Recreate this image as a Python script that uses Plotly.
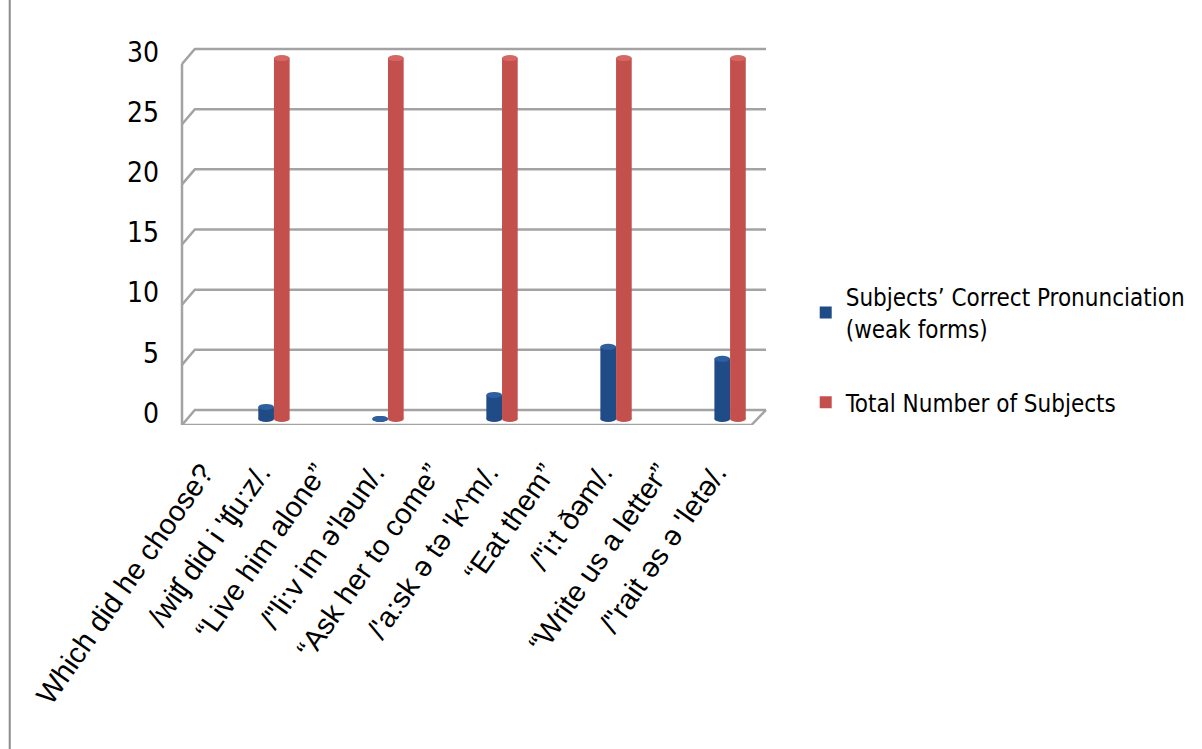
import plotly.graph_objects as go

# Sentence / transcription labels along the category axis
categories = [
    "Which did he choose?",
    "/wiʧ did i 'ʧu:z/.",
    "“Live him alone”",
    "/\"li:v im ə'ləun/.",
    "“Ask her to come”",
    "/'a:sk ə tə 'k^m/.",
    "“Eat them”",
    "/\"i:t ðəm/.",
    "“Write us a letter”",
    "/\"rait əs ə 'letə/.",
]

# Values only exist for the transcription rows
correct_pron = [None, 1, None, 0, None, 2, None, 6, None, 5]
total_subjects = [None, 30, None, 30, None, 30, None, 30, None, 30]

series_names = ["Subjects’ Correct Pronunciation<br>(weak forms)", "Total Number of Subjects"]
series_colors = ["#1f4b87", "#c4504d"]
cap_colors = ["#2f5f9e", "#d66662"]

y_ticks = [0, 5, 10, 15, 20, 25, 30]

NARROW = "Liberation Sans Narrow, DejaVu Sans Condensed, Arial Narrow, sans-serif"
REGULAR = "Liberation Sans, Arial, sans-serif"

x_idx = list(range(len(categories)))
BARGAP = 0.45
bar_w = (1 - BARGAP) / 2

fig = go.Figure()
for name, vals, col in zip(series_names, [correct_pron, total_subjects], series_colors):
    fig.add_trace(go.Bar(
        x=x_idx, y=vals, name=name, marker=dict(color=col, line=dict(width=0)),
        legendgroup=name,
    ))

shapes = []
# pseudo-3D walls: diagonal from the front edge back to each gridline
for v in y_ticks:
    shapes.append(dict(
        type="path", xref="paper", yref="y", layer="below",
        path=f"M 0,{v - 0.5} L 0.022,{v + 0.75} L 1,{v + 0.75}",
        line=dict(color="#a3a3a3", width=2.5),
    ))
# floor front edge and left wall edge
shapes.append(dict(type="path", xref="paper", yref="y", layer="below",
                   path="M 0,-0.5 L 0.975,-0.5 L 1,0.75",
                   line=dict(color="#a3a3a3", width=2.5)))
shapes.append(dict(type="path", xref="paper", yref="y", layer="below",
                   path=f"M 0,-0.5 L 0,{y_ticks[-1] - 0.5}",
                   line=dict(color="#a3a3a3", width=2.5)))

# cylinder ends for each column
for s, vals in enumerate([correct_pron, total_subjects]):
    off = (s - 0.5) * bar_w
    for i, v in zip(x_idx, vals):
        if v is None:
            continue
        x0, x1 = i + off - bar_w / 2, i + off + bar_w / 2
        shapes.append(dict(type="circle", xref="x", yref="y", layer="above",
                           x0=x0, x1=x1, y0=-0.25, y1=0.25,
                           fillcolor=series_colors[s], line=dict(width=0)))
        shapes.append(dict(type="circle", xref="x", yref="y", layer="above",
                           x0=x0, x1=x1, y0=v - 0.25, y1=v + 0.25,
                           fillcolor=cap_colors[s], line=dict(width=0)))

# outer frame line on the left
shapes.append(dict(type="line", xref="paper", yref="paper",
                   x0=-0.295, x1=-0.295, y0=-0.842, y1=1.104,
                   line=dict(color="#8c8c8c", width=2)))

fig.update_layout(
    width=1202, height=749,
    margin=dict(l=182, r=430, t=40, b=324),
    paper_bgcolor="white", plot_bgcolor="rgba(0,0,0,0)",
    barmode="group", bargap=BARGAP, bargroupgap=0,
    shapes=shapes,
    showlegend=True,
    legend=dict(
        x=1.068, y=0.39, xanchor="left", yanchor="top",
        font=dict(family=NARROW, size=24, color="#000000"),
        tracegroupgap=40, bgcolor="rgba(0,0,0,0)",
        itemwidth=30,
    ),
    xaxis=dict(
        range=[-0.613, 9.63], tickmode="array", tickvals=x_idx, ticktext=categories,
        tickangle=-55, showgrid=False, zeroline=False, showline=False, ticks="",
        tickfont=dict(family=REGULAR, size=29, color="#000000"),
        ticklabelstandoff=24, ticklabelshift=-14,
    ),
    yaxis=dict(
        range=[-0.5, 31.5], tickmode="array", tickvals=y_ticks,
        showgrid=False, zeroline=False, showline=False, ticks="",
        tickfont=dict(family=NARROW, size=28, color="#000000"),
        ticklabelstandoff=22, ticklabelshift=-6,
    ),
)

fig.write_html("out.html")
